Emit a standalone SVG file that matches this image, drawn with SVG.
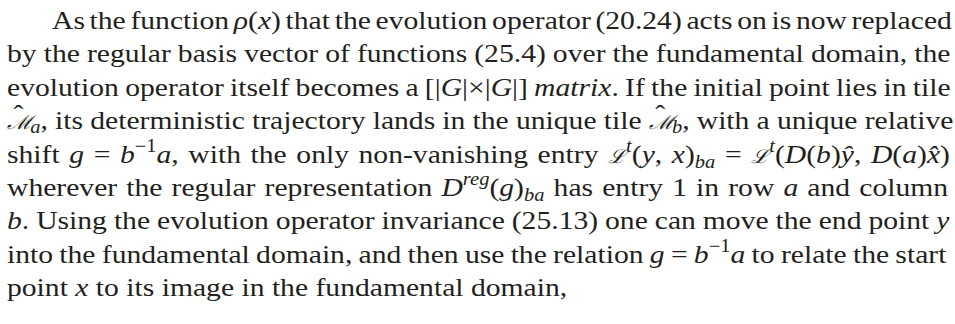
<svg xmlns="http://www.w3.org/2000/svg" width="955" height="324" viewBox="0 0 955 324">
<style>
text{font-family:"Liberation Serif","DejaVu Serif",serif;font-size:26px;fill:#231f20}
.i{font-style:italic}
.s{font-size:18px}
.c{font-family:"DejaVu Serif","Liberation Serif",serif;font-style:italic;font-size:19px}
</style>
<rect width="955" height="324" fill="#ffffff"/>
<g id="paragraph" transform="scale(1.14,1)">
<text x="45.61" y="29" word-spacing="-2.4">As the function <tspan class="i">ρ</tspan>(<tspan class="i">x</tspan>) that the evolution operator (20.24) acts on is now replaced</text>
<text x="6.14" y="62.4" word-spacing="-0.3">by the regular basis vector of functions (25.4) over the fundamental domain, the</text>
<text x="6.14" y="95.8" word-spacing="-1.0">evolution operator itself becomes a [|<tspan class="i">G</tspan>|×|<tspan class="i">G</tspan>|] <tspan class="i">matrix</tspan>. If the initial point lies in tile</text>
<text x="6.14" y="129.2" word-spacing="-0.2"><tspan class="c">ℳ</tspan><tspan dx="-16.7" dy="-6">ˆ</tspan><tspan class="i s" dx="6" dy="10">a</tspan><tspan dy="-4">, its deterministic trajectory lands in the unique tile </tspan><tspan class="c">ℳ</tspan><tspan dx="-16.7" dy="-6">ˆ</tspan><tspan class="i s" dx="6" dy="10">b</tspan><tspan dy="-4">, with a unique relative</tspan></text>
<text x="6.14" y="162.6" word-spacing="1.9">shift <tspan class="i">g</tspan> = <tspan class="i">b</tspan><tspan class="s" dy="-11">−1</tspan><tspan class="i" dy="11">a</tspan>, with the only non-vanishing entry <tspan class="c">ℒ</tspan><tspan class="i s" dy="-11">t</tspan><tspan dy="11">(</tspan><tspan class="i">y</tspan>, <tspan class="i">x</tspan>)<tspan class="i s" dy="5">ba</tspan><tspan dy="-5"> = </tspan><tspan class="c">ℒ</tspan><tspan class="i s" dy="-11">t</tspan><tspan dy="11">(</tspan><tspan class="i">D</tspan>(<tspan class="i">b</tspan>)<tspan class="i">ŷ</tspan>, <tspan class="i">D</tspan>(<tspan class="i">a</tspan>)<tspan class="i">x̂</tspan>)</text>
<text x="6.14" y="196" word-spacing="1.5">wherever the regular representation <tspan class="i">D</tspan><tspan class="i s" dy="-11">reg</tspan><tspan dy="11">(</tspan><tspan class="i">g</tspan>)<tspan class="i s" dy="5">ba</tspan><tspan dy="-5"> has entry 1 in row </tspan><tspan class="i">a</tspan> and column</text>
<text x="6.14" y="229.4" word-spacing="-0.4"><tspan class="i">b</tspan>. Using the evolution operator invariance (25.13) one can move the end point <tspan class="i">y</tspan></text>
<text x="6.14" y="262.8" word-spacing="-1.0">into the fundamental domain, and then use the relation <tspan class="i">g</tspan> = <tspan class="i">b</tspan><tspan class="s" dy="-11">−1</tspan><tspan class="i" dy="11">a</tspan> to relate the start</text>
<text x="6.14" y="296.2">point <tspan class="i">x</tspan> to its image in the fundamental domain,</text>
</g>
</svg>
